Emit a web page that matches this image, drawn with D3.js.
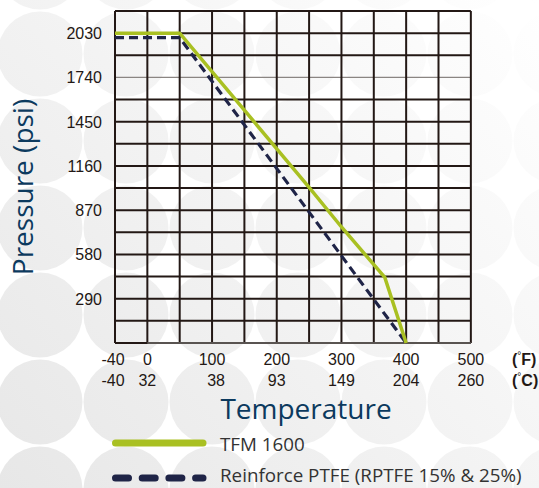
<!DOCTYPE html>
<html>
<head>
<meta charset="utf-8">
<script src="https://cdn.jsdelivr.net/npm/d3@7"></script>
<style>
  html, body { margin: 0; padding: 0; background: #fff; }
  svg { display: block; }
  .tick-label { font-family: "Liberation Sans", Arial, sans-serif; font-size: 16px; fill: #231815; }
  .title { font-family: "Open Sans", "Noto Sans", sans-serif; fill: #0c3a5e; }
  .legend-label { font-family: "Open Sans", "Noto Sans", sans-serif; font-size: 18.8px; fill: #333; }
</style>
</head>
<body>
<svg></svg>
<script>
// chart data
var fTicks = [-40, 0, 100, 200, 300, 400, 500];
var cTicks = ['-40', '32', '38', '93', '149', '204', '260'];
var gridF = [-40, 0, 50, 100, 150, 200, 250, 300, 350, 400, 450, 500];
var yTicks = [290, 580, 870, 1160, 1450, 1740, 2030];
var tfmTemp = [-40, 50, 250, 300, 367, 400];
var tfmPressure = [2030, 2030, 1020, 760, 430, 0];
var rptfeTemp = [-40, 50, 400];
var rptfePressure = [2000, 2000, 0];
var seriesNames = ['TFM 1600', 'Reinforce PTFE (RPTFE 15% & 25%)'];

var canvasWidth = 539;
var canvasHeight = 488;
var margin = { top: 11, left: 115 };
var colW = 32.35;
var width = colW * 11;
var height = 332;

var svg = d3.select('svg')
  .attr('width', canvasWidth)
  .attr('height', canvasHeight);

// background bubbles
var defs = svg.append('defs');
var grad = defs.append('linearGradient')
  .attr('id', 'bg')
  .attr('gradientUnits', 'userSpaceOnUse')
  .attr('x1', 0).attr('y1', 488).attr('x2', 539).attr('y2', 0);
grad.append('stop').attr('offset', '0%').attr('stop-color', '#e7e7e7');
grad.append('stop').attr('offset', '50%').attr('stop-color', '#f3f3f3');
grad.append('stop').attr('offset', '100%').attr('stop-color', '#ffffff');

var bubbles = [];
for (var i = 0; i < 7; i++) {
  for (var j = 0; j < 7; j++) {
    bubbles.push([40 + i * 86, 489 - j * 87]);
  }
}
svg.append('g').selectAll('circle')
  .data(bubbles)
  .enter().append('circle')
  .attr('cx', function(d) { return d[0]; })
  .attr('cy', function(d) { return d[1]; })
  .attr('r', 42.5)
  .style('fill', 'url(#bg)');

var xScale = d3.scaleLinear().domain([-40, 0, 500]).range([0, colW, width]);
var yScale = d3.scaleLinear().domain([0, 2175]).range([height, 0]);

var graphArea = svg.append('g')
  .attr('transform', 'translate(' + margin.left + ',' + margin.top + ')');

// grid
var hLines = d3.range(0, 2176, 145);
graphArea.selectAll('.hgrid')
  .data(hLines)
  .enter().append('line')
  .attr('class', 'hgrid')
  .attr('x1', 0)
  .attr('x2', width)
  .attr('y1', function(d) { return yScale(d); })
  .attr('y2', function(d) { return yScale(d); })
  .style('stroke', function(d) { return (d == 1740) ? '#8a8582' : '#231815'; })
  .style('stroke-width', function(d) { return (d == 1740) ? 1.2 : 2; });

graphArea.selectAll('.vgrid')
  .data(gridF)
  .enter().append('line')
  .attr('class', 'vgrid')
  .attr('x1', function(d) { return xScale(d); })
  .attr('x2', function(d) { return xScale(d); })
  .attr('y1', 0)
  .attr('y2', height)
  .style('stroke', '#231815')
  .style('stroke-width', 2);

// bottom edge is lighter past the first column
graphArea.append('line')
  .attr('x1', 0).attr('x2', xScale(0))
  .attr('y1', yScale(0)).attr('y2', yScale(0))
  .style('stroke', '#231815').style('stroke-width', 2);
graphArea.append('line')
  .attr('x1', xScale(0)).attr('x2', width)
  .attr('y1', yScale(0)).attr('y2', yScale(0))
  .style('stroke', '#6d6866').style('stroke-width', 1.6);

// lines
var line = d3.line()
  .x(function(d) { return xScale(d[0]); })
  .y(function(d) { return yScale(d[1]); });

graphArea.append('path')
  .datum(d3.zip(rptfeTemp, rptfePressure))
  .attr('d', line)
  .style('fill', 'none')
  .style('stroke', '#1f2447')
  .style('stroke-width', 3.2)
  .style('stroke-dasharray', '9,5');

graphArea.append('path')
  .datum(d3.zip(tfmTemp, tfmPressure))
  .attr('d', line)
  .style('fill', 'none')
  .style('stroke', '#a9c022')
  .style('stroke-width', 3.5);

// y tick labels
svg.selectAll('.ylab')
  .data(yTicks)
  .enter().append('text')
  .attr('class', 'tick-label')
  .attr('x', 102)
  .attr('y', function(d) { return yScale(d) + margin.top + 6; })
  .attr('text-anchor', 'end')
  .text(function(d) { return d; });

// x tick labels (F and C rows)
svg.selectAll('.xlabF')
  .data(fTicks)
  .enter().append('text')
  .attr('class', 'tick-label')
  .attr('x', function(d) { return xScale(d) + margin.left - (d == -40 ? 2 : 0); })
  .attr('y', 365)
  .attr('text-anchor', 'middle')
  .text(function(d) { return d; });

svg.selectAll('.xlabC')
  .data(cTicks)
  .enter().append('text')
  .attr('class', 'tick-label')
  .attr('x', function(d, i) { return xScale(fTicks[i]) + margin.left - (i == 0 ? 2 : 0) + (i == 2 ? 4 : 0); })
  .attr('y', 386)
  .attr('text-anchor', 'middle')
  .text(function(d) { return d; });

var units = ['F', 'C'];
units.forEach(function(u, i) {
  var t = svg.append('text')
    .attr('class', 'tick-label')
    .attr('x', 512)
    .attr('y', 365 + i * 21)
    .style('font-weight', 'bold');
  t.append('tspan').text('(');
  t.append('tspan').attr('dy', -6).style('font-size', '10px').style('font-weight', 'normal').text('°');
  t.append('tspan').attr('dy', 6).text(u + ')');
});

// axis titles
svg.append('text')
  .attr('class', 'title')
  .attr('x', 306)
  .attr('y', 419)
  .attr('text-anchor', 'middle')
  .style('font-size', '28px')
  .text('Temperature');

svg.append('text')
  .attr('class', 'title')
  .attr('transform', 'translate(33,187) rotate(-90)')
  .attr('text-anchor', 'middle')
  .style('font-size', '28px')
  .text('Pressure (psi)');

// legend
var legendY = [443, 478];
var legend = svg.selectAll('.legend')
  .data(seriesNames)
  .enter().append('g')
  .attr('class', 'legend')
  .attr('transform', function(d, i) { return 'translate(0,' + legendY[i] + ')'; });

legend.append('line')
  .attr('x1', 115.5)
  .attr('x2', 203)
  .attr('y1', 0)
  .attr('y2', 0)
  .style('stroke', function(d, i) { return i == 0 ? '#a9c022' : '#1f2447'; })
  .style('stroke-width', 7)
  .style('stroke-linecap', 'round')
  .style('stroke-dasharray', function(d, i) { return i == 0 ? null : '13,13.7'; });

legend.append('text')
  .attr('class', 'legend-label')
  .attr('x', 220)
  .attr('y', function(d, i) { return i == 0 ? 8 : 4; })
  .text(function(d) { return d; });
</script>
</body>
</html>
